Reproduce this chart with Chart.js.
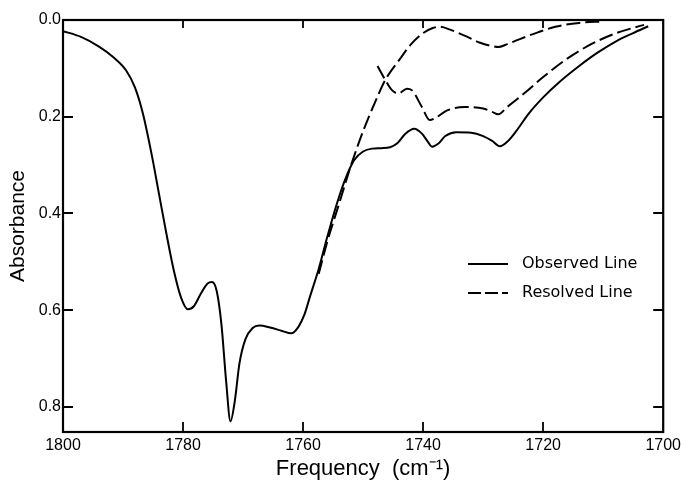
<!DOCTYPE html>
<html><head><meta charset="utf-8">
<script src="https://cdn.jsdelivr.net/npm/chart.js@4"></script>
<style>html,body{margin:0;padding:0;background:#fff;}</style>
</head><body>
<canvas id="c" width="685" height="486"></canvas>
<script>
// ---- data ----
const obsFreq = [1800,1797,1794,1791.5,1789.5,1788,1786.7,1785.2,1784,1782.8,1781.5,1780.3,1779.2,1778.2,1777,1775.9,1775.2,1774.4,1773.6,1772.8,1772.1,1771.4,1770.6,1769.6,1768.4,1767.3,1765.5,1763.5,1762,1760.8,1759.8,1758.8,1757.4,1756,1754.5,1753,1751.5,1750,1748.5,1747,1745.5,1744.3,1743,1741.5,1740.2,1739.2,1738.5,1737.5,1736.3,1734.5,1732,1730,1728.5,1727.2,1726,1724.5,1722.5,1720,1717,1714,1711,1708,1705,1702.5];
const obsAbs  = [0.023,0.035,0.055,0.078,0.104,0.14,0.193,0.28,0.36,0.44,0.52,0.575,0.598,0.592,0.565,0.545,0.542,0.56,0.63,0.75,0.83,0.79,0.71,0.66,0.637,0.632,0.636,0.643,0.648,0.635,0.61,0.57,0.515,0.45,0.385,0.33,0.29,0.272,0.266,0.265,0.263,0.255,0.236,0.225,0.235,0.252,0.262,0.256,0.24,0.232,0.233,0.24,0.25,0.261,0.252,0.23,0.195,0.16,0.125,0.095,0.068,0.045,0.027,0.013];

const res1Freq = [1757.4,1756,1754,1752,1750,1748,1746.3,1744,1742,1740,1738.5,1737.3,1735.5,1733,1730.5,1728.5,1727.5,1726,1724,1721,1718,1714,1710];
const res1Abs  = [0.525,0.46,0.38,0.30,0.23,0.17,0.124,0.083,0.05,0.027,0.017,0.014,0.02,0.033,0.047,0.054,0.056,0.05,0.04,0.026,0.014,0.006,0.003];

const res2Freq = [1747.6,1746.3,1745.2,1744.1,1742.7,1741.9,1740.2,1738.9,1738,1736,1733.1,1730,1728.5,1727.5,1726,1723,1720,1716,1712,1708,1703.2];
const res2Abs  = [0.095,0.124,0.145,0.152,0.142,0.145,0.18,0.207,0.203,0.187,0.18,0.183,0.19,0.195,0.18,0.15,0.118,0.08,0.05,0.028,0.01];

const xTicks = [1800,1780,1760,1740,1720,1700];
const yTicks = [0.0,0.2,0.4,0.6,0.8];
const legendLabels = ['Observed Line','Resolved Line'];

const pts = (xs, ys) => xs.map((x, i) => ({x: x, y: ys[i]}));

const framePlugin = {
  id: 'frame',
  afterDatasetsDraw(chart) {
    const {ctx, chartArea: a, scales: {x, y}} = chart;
    ctx.save();
    ctx.strokeStyle = '#000';
    ctx.lineWidth = 2.2;
    ctx.strokeRect(a.left, a.top, a.right - a.left, a.bottom - a.top);
    ctx.lineWidth = 1.8;
    ctx.beginPath();
    xTicks.forEach(v => {
      const px = Math.round(x.getPixelForValue(v));
      if (px <= a.left + 2 || px >= a.right - 2) return;
      ctx.moveTo(px, a.bottom); ctx.lineTo(px, a.bottom - 10);
      ctx.moveTo(px, a.top); ctx.lineTo(px, a.top + 8);
    });
    yTicks.forEach(v => {
      const py = Math.round(y.getPixelForValue(v));
      if (py <= a.top + 2 || py >= a.bottom - 2) return;
      ctx.moveTo(a.left, py); ctx.lineTo(a.left + 10, py);
      ctx.moveTo(a.right, py); ctx.lineTo(a.right - 10, py);
    });
    ctx.stroke();
    ctx.restore();
  },
  afterDraw(chart) {
    const ctx = chart.ctx;
    ctx.save();
    ctx.strokeStyle = '#000';
    ctx.fillStyle = '#000';
    ctx.lineWidth = 1.8;
    ctx.font = '16px "DejaVu Sans"';
    ctx.textBaseline = 'middle';
    ctx.textAlign = 'left';
    const rows = [{y: 264, dash: []}, {y: 293, dash: [13, 4]}];
    rows.forEach((r, i) => {
      ctx.setLineDash(r.dash);
      ctx.beginPath(); ctx.moveTo(468, r.y); ctx.lineTo(508, r.y); ctx.stroke();
      ctx.setLineDash([]);
      ctx.fillText(legendLabels[i], 522, r.y);
    });
    ctx.restore();
  }
};

const lineStyle = {borderColor: '#000', borderWidth: 2, pointRadius: 0, fill: false, cubicInterpolationMode: 'monotone'};

new Chart(document.getElementById('c'), {
  type: 'line',
  data: {
    datasets: [
      Object.assign({label: legendLabels[0], data: pts(obsFreq, obsAbs)}, lineStyle),
      Object.assign({label: legendLabels[1], data: pts(res1Freq, res1Abs), borderDash: [14, 5]}, lineStyle),
      Object.assign({label: legendLabels[1] + ' (2)', data: pts(res2Freq, res2Abs), borderDash: [14, 5]}, lineStyle)
    ]
  },
  options: {
    responsive: false,
    animation: false,
    layout: {padding: {top: 20, right: 19, bottom: 0, left: 0}},
    plugins: {legend: {display: false}, tooltip: {enabled: false}},
    scales: {
      x: {
        type: 'linear', reverse: true, min: 1700, max: 1800,
        grid: {display: false, drawTicks: false},
        border: {display: false},
        ticks: {stepSize: 20, padding: 4, color: '#000', maxRotation: 0, font: {family: 'Liberation Sans', size: 16},
                callback: v => String(v)},
        title: {display: true, text: 'Frequency  (cm⁻¹)', color: '#000', font: {family: 'Liberation Sans', size: 22}, padding: {top: 0, bottom: 4}},
        afterFit(s) { s.height = 54; }
      },
      y: {
        type: 'linear', reverse: true, min: 0, max: 0.852,
        grid: {display: false, drawTicks: false},
        border: {display: false},
        ticks: {stepSize: 0.2, includeBounds: false, padding: 2, color: '#000', font: {family: 'Liberation Sans', size: 16},
                callback: v => v.toFixed(1)},
        title: {display: true, text: 'Absorbance', color: '#000', font: {family: 'Liberation Sans', size: 21}, padding: {top: 6, bottom: 0}},
        afterFit(s) { s.width = 63; }
      }
    }
  },
  plugins: [framePlugin]
});
</script>
</body></html>
